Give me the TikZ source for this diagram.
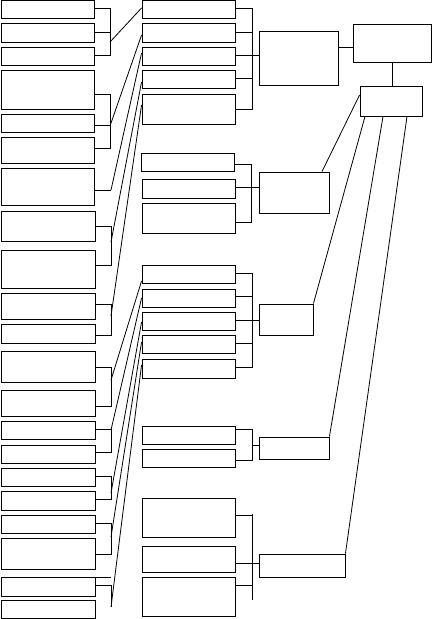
\documentclass[tikz,border=0pt]{standalone}
\usetikzlibrary{fit}
\tikzset{
  bx/.style={draw=black, line width=0.9pt, inner sep=0pt, fill=white},
  ln/.style={draw=black, line width=0.8pt},
}
\newcommand\bx[5]{\node[bx, fit={(#2,#3)(#4,#5)}] (#1) {};}
\begin{document}
\begin{tikzpicture}[x=1pt,y=-1pt]
\useasboundingbox (0,0) rectangle (432,619);
% left column
\bx{L1}{1}{0.5}{94}{18}
\bx{L2}{1}{23}{94}{42}
\bx{L3}{1}{47}{94}{65}
\bx{L4}{1}{70}{94}{109}
\bx{L5}{1}{114}{94}{132}
\bx{L6}{1}{137}{94}{163}
\bx{L7}{1}{168}{94}{205}
\bx{L8}{1.5}{211}{95}{241}
\bx{L9}{1.5}{250}{95}{288}
\bx{L10}{1.5}{293}{95}{319}
\bx{L11}{1.5}{324}{95}{343}
\bx{L12}{1.5}{351}{95}{382}
\bx{L13}{1.5}{390}{95}{416}
\bx{L14}{1.5}{421}{95}{439}
\bx{L15}{1.5}{445}{95}{463}
\bx{L16}{1.5}{468}{95}{486}
\bx{L17}{1.5}{491}{95}{510}
\bx{L18}{1.5}{515}{95}{533}
\bx{L19}{1.5}{538}{95}{569}
\bx{L20}{1.5}{577}{95}{596}
\bx{L21}{1.5}{600}{95}{618}
% middle column
\bx{M1}{142}{0.5}{235}{18}
\bx{M2}{142}{23}{235}{42}
\bx{M3}{142}{47}{235}{65}
\bx{M4}{142}{70}{235}{88}
\bx{M5}{142}{94}{235}{124}
\bx{M6}{141}{153}{234}{171}
\bx{M7}{142}{179}{235}{198}
\bx{M8}{142}{203}{235}{233}
\bx{M9}{142}{265}{235}{283}
\bx{M10}{142}{289}{235}{307}
\bx{M11}{142}{312}{235}{330}
\bx{M12}{142}{335}{235}{353}
\bx{M13}{142}{359}{235}{378}
\bx{M14}{142}{426}{235}{444}
\bx{M15}{142}{449}{235}{467}
\bx{M16}{142}{498}{235}{537}
\bx{M17}{142}{546}{235}{572}
\bx{M18}{142}{577}{235}{616}
% group boxes
\bx{N1}{259}{31}{338}{85}
\bx{N2}{259}{172}{329}{213}
\bx{N3}{259}{304}{313}{335}
\bx{N4}{259}{437}{329}{459}
\bx{N5}{259}{554}{345}{577}
\bx{T}{353}{24}{431}{62}
\bx{R}{360}{86}{422}{116}
% left brackets
\draw[ln] (L1.east|-0,8) -- (110,8) -- (110,55) -- (L3.east|-0,55);
\draw[ln] (L2.east|-0,32) -- (110,32);
\draw[ln] (L4.east|-0,94) -- (110,94) -- (110,148) -- (L6.east|-0,148);
\draw[ln] (L5.east|-0,125) -- (110,125);
\draw[ln] (L7.east|-0,190) -- (111,190);
\draw[ln] (L8.east|-0,226) -- (111,226) -- (111,265) -- (L9.east|-0,265);
\draw[ln] (L10.east|-0,304) -- (111,304) -- (111,335) -- (L11.east|-0,335);
\draw[ln] (L12.east|-0,367) -- (111,367) -- (111,406) -- (L13.east|-0,406);
\draw[ln] (L14.east|-0,429) -- (111,429) -- (111,452) -- (L15.east|-0,452);
\draw[ln] (L16.east|-0,476) -- (111,476) -- (111,499) -- (L17.east|-0,499);
\draw[ln] (L18.east|-0,523) -- (111,523) -- (111,554) -- (L19.east|-0,554);
\draw[ln] (L20.east|-0,577) -- (111,577);
\draw[ln] (L20.east|-0,585) -- (111,585) -- (111,607);
% left-to-middle connectors
\draw[ln] (110,42) -- (M1.west|-0,8);
\draw[ln] (110,126) -- (M2.west|-0,35);
\draw[ln] (111,190) -- (M3.west|-0,53);
\draw[ln] (111,242) -- (M4.west|-0,82);
\draw[ln] (111,316) -- (M5.west|-0,105);
\draw[ln] (111,380) -- (M9.west|-0,281);
\draw[ln] (111,430) -- (M10.west|-0,298);
\draw[ln] (111,493) -- (M11.west|-0,322);
\draw[ln] (111,537) -- (M12.west|-0,342);
\draw[ln] (111,607) -- (M13.west|-0,365);
% middle brackets
\draw[ln] (M1.east|-0,8) -- (252,8) -- (252,109) -- (M5.east|-0,109);
\foreach \y in {32,55,78} \draw[ln] (M2.east|-0,\y) -- (252,\y);
\draw[ln] (252,55) -- (N1.west|-0,55);
\draw[ln] (M6.east|-0,164) -- (251,164) -- (251,222) -- (M8.east|-0,222);
\draw[ln] (M7.east|-0,187) -- (N2.west|-0,187);
\draw[ln] (M9.east|-0,273) -- (252,273) -- (252,367) -- (M13.east|-0,367);
\foreach \y in {296,343} \draw[ln] (M10.east|-0,\y) -- (252,\y);
\draw[ln] (M11.east|-0,320) -- (N3.west|-0,320);
\draw[ln] (M14.east|-0,429) -- (252,429) -- (252,460) -- (M15.east|-0,460);
\draw[ln] (252,445) -- (N4.west|-0,445);
\draw[ln] (M16.east|-0,515) -- (252,515);
\draw[ln] (252,514) -- (252,600);
\draw[ln] (M17.east|-0,563) -- (N5.west|-0,563);
\draw[ln] (M18.east|-0,585) -- (252,585);
% right part
\draw[ln] (N1.east|-0,47) -- (T.west|-0,47);
\draw[ln] (T.south-|392,0) -- (R.north-|392,0);
\draw[ln] (R.west|-0,95) -- (N2.north-|322,0);
\draw[ln] (R.south-|365,0) -- (N3.north east);
\draw[ln] (R.south-|383,0) -- (N4.north east);
\draw[ln] (R.south-|407,0) -- (N5.north east);
\end{tikzpicture}
\end{document}
